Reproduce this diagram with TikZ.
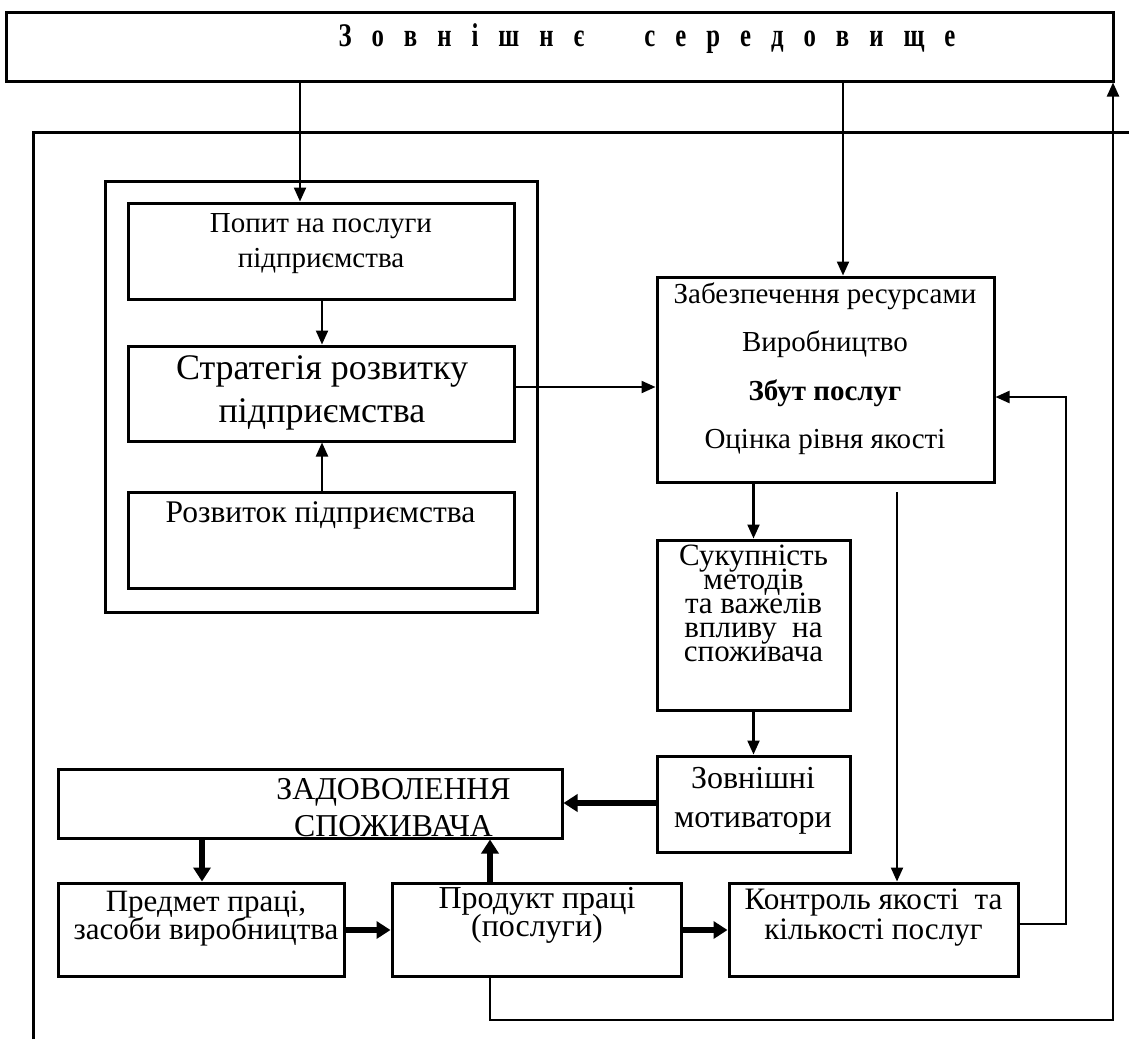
\documentclass[tikz,border=0pt]{standalone}
\usepackage{fontspec}
\setmainfont{Liberation Serif}
\newfontfamily\titlefont[FakeStretch=0.75]{Liberation Serif}
\usetikzlibrary{arrows.meta}
\lineskiplimit=-\maxdimen
\newcommand{\setfs}[2]{\fontsize{#1}{#2}\selectfont}
\tikzset{
  box/.style={draw, line width=3pt, inner sep=0pt},
  lab/.style={inner sep=0pt, align=center},
  conn/.style={line width=2.2pt, -{Triangle[length=14pt,width=12pt]}},
  connThick/.style={line width=5.5pt, -{Triangle[length=14pt,width=17pt]}},
  frame/.style={line width=3pt}
}

\begin{document}
\begin{tikzpicture}[x=1pt,y=-1pt]
\useasboundingbox (0,0) rectangle (1129,1039);
% outer frame, open at the right and at the bottom
\draw[frame] (33,1039) -- (33,132) -- (1129,132);

% boxes
\node[box, minimum width=1107pt, minimum height=69pt] (env) at (559.5,46.5) {};
\node[box, minimum width=432pt, minimum height=431pt] (group) at (321,396.5) {};
\node[box, minimum width=386pt, minimum height=96pt] (popyt) at (321,251) {};
\node[box, minimum width=386pt, minimum height=95pt] (strat) at (321,393.5) {};
\node[box, minimum width=386pt, minimum height=96pt] (rozv) at (321,540) {};
\node[box, minimum width=337pt, minimum height=205pt] (zabezp) at (825.5,379.5) {};
\node[box, minimum width=193pt, minimum height=170pt] (sukup) at (753.5,625) {};
\node[box, minimum width=193pt, minimum height=96pt] (motiv) at (753.5,804) {};
\node[box, minimum width=504pt, minimum height=69pt] (zadov) at (310,803.5) {};
\node[box, minimum width=286pt, minimum height=93pt] (predmet) at (201,929.5) {};
\node[box, minimum width=289pt, minimum height=93pt] (produkt) at (536.5,929.5) {};
\node[box, minimum width=289pt, minimum height=93pt] (kontrol) at (873.5,929.5) {};

% texts
\node[lab, font=\titlefont\bfseries\setfs{33}{33}] (envTxt) at (647,38.5)
  {\spaceskip=20pt З о в н і ш н є \ \ с е р е д о в и щ е};
\node[lab, font=\setfs{29}{34.5}] (popytTxt) at (321,243.5) {Попит на послуги\\підприємства};
\node[lab, font=\setfs{36}{42.4}] (stratTxt) at (322,392.8) {Стратегія розвитку\\підприємства};
\node[lab, font=\setfs{31.5}{36}] (rozvTxt) at (320.5,515) {Розвиток підприємства};
\node[lab, font=\setfs{29}{48.3}] (zabezpTxt) at (825,368.7)
  {Забезпечення ресурсами\\Виробництво\\\textbf{Збут послуг}\\Оцінка рівня якості};
\node[lab, font=\setfs{31}{24}] (sukupTxt) at (753.5,603)
  {Сукупність\\методів\\та важелів\\впливу\ \ на\\споживача};
\node[lab, font=\setfs{32}{38.7}] (motivTxt) at (753,800.5) {Зовнішні\\мотиватори};
\node[lab, font=\setfs{31.8}{37}] (zadovTxt) at (393.5,808) {ЗАДОВОЛЕННЯ\\СПОЖИВАЧА};
\node[lab, font=\setfs{31}{28}] (predmetTxt) at (206,919) {Предмет праці,\\засоби виробництва};
\node[lab, font=\setfs{32}{28}] (produktTxt) at (537,915) {Продукт праці\\(послуги)};
\node[lab, font=\setfs{31.2}{30}] (kontrolTxt) at (873.5,918) {Контроль якості\ \ та\\кількості послуг};

% connectors
\draw[conn] (env.south -| 300,0) -- (popyt.north -| 300,0);
\draw[conn] (env.south -| 843,0) -- (zabezp.north -| 843,0);
\draw[conn] (popyt.south -| 322,0) -- (strat.north -| 322,0);
\draw[conn] (rozv.north -| 322,0) -- (strat.south -| 322,0);
\draw[conn] (strat.east |- 0,387) -- (zabezp.west |- 0,387);
\draw[conn] (zabezp.south -| 753.5,0) -- (sukup.north);
\draw[conn] (sukup.south) -- (motiv.north);
\draw[connThick] (motiv.west |- 0,803) -- (zadov.east |- 0,803);
\draw[connThick] (zadov.south -| 202,0) -- (predmet.north -| 202,0);
\draw[connThick] (produkt.north -| 490,0) -- (zadov.south -| 490,0);
\draw[connThick] (predmet.east |- 0,930) -- (produkt.west |- 0,930);
\draw[connThick] (produkt.east |- 0,930) -- (kontrol.west |- 0,930);
\coordinate (qStart) at (897,492);
\draw[conn] (qStart) -- (kontrol.north -| qStart);
% feedback loops
\draw[conn] (kontrol.east |- 0,924) -- (1066,924) -- (1066,397) -- (zabezp.east |- 0,397);
\draw[conn] (produkt.south -| 490,0) -- (490,1020) -- (1113,1020) -- (env.south -| 1113,0);
\end{tikzpicture}
\end{document}
